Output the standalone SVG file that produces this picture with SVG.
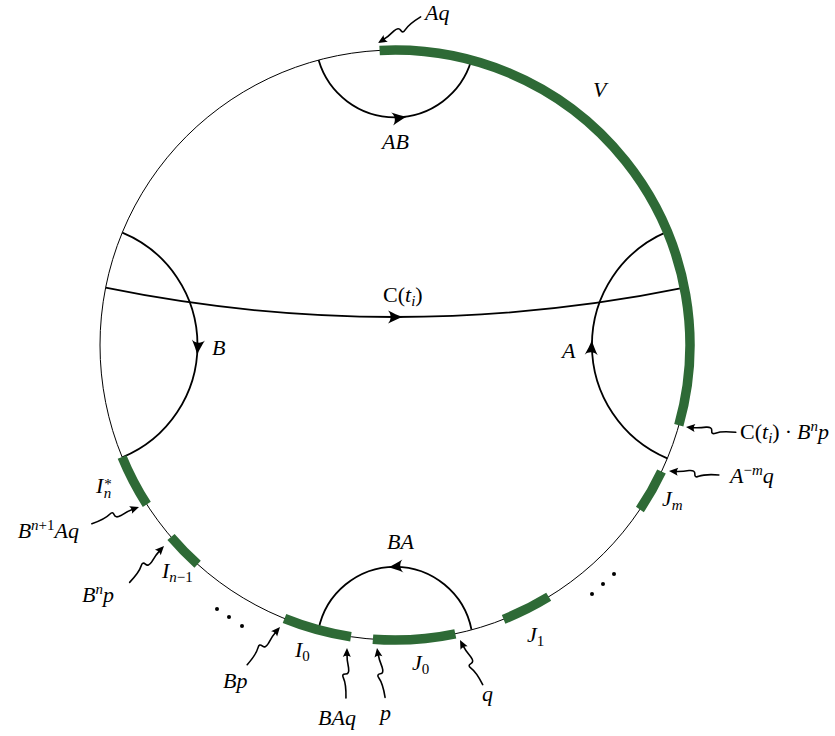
<svg xmlns="http://www.w3.org/2000/svg" xmlns:xlink="http://www.w3.org/1999/xlink" width="835" height="736" viewBox="0 0 835 736">
<style>
.c{fill:none;stroke:#000;stroke-width:1}
.g{fill:none;stroke:#2e6a36;stroke-width:9.5}
.geo{fill:none;stroke:#000;stroke-width:1.8}
.w{fill:none;stroke:#000;stroke-width:1.6;stroke-linecap:round}
.m{font-family:"Liberation Serif","Times New Roman",serif;font-style:italic;font-size:22px;fill:#000}
.u{font-style:normal}
.s{font-size:15px}
</style>
<defs>
<path id="ah" d="M0,0 C-5,-1.5 -10,-4 -15,-6.5 C-11.5,-3 -11.5,3 -15,6.5 C-10,4 -5,1.5 0,0 Z" fill="#000"/>
<g id="sq">
<path class="w" d="M-50,0 Q-36,0 -30,-3 Q-26,-5 -26,-1 Q-26,3 -20,2 Q-12,0 -4,0"/>
<path d="M0,0 L-9,-4 Q-6.5,0 -9,4 Z" fill="#000"/>
</g>
</defs>

<g id="boundary">
<circle class="c" cx="395" cy="345" r="295"/>
</g>

<g id="connectors">
<path id="geo-AB" class="geo" d="M318.6,60.1 A79.6,79.6 0 0 0 471.4,60.1"/>
<path id="geo-BA" class="geo" d="M318.5,629.6 A78,78 0 0 1 471.5,629.6"/>
<path id="geo-A" class="geo" d="M667.3,231.6 A123,123 0 0 0 667.3,458.4"/>
<path id="geo-B" class="geo" d="M122.3,232.6 A121.6,121.6 0 0 1 122.3,457.4"/>
<path id="geo-C" class="geo" d="M105.6,287.7 A1444,1444 0 0 0 684.4,287.7"/>
<use href="#ah" transform="translate(407,116.7) rotate(-8.7)"/>
<use href="#ah" transform="translate(388,567.3) rotate(174.9)"/>
<use href="#ah" transform="translate(403,317) rotate(0)"/>
<use href="#ah" transform="translate(591.8,340) rotate(-87.7)"/>
<use href="#ah" transform="translate(197.2,355) rotate(94.7)"/>
</g>

<g id="intervals">
<path id="V" class="g" d="M379.6,50.4 A295,295 0 0 1 678.8,425.3"/>
<path id="Jm" class="g" d="M661.5,471.5 A295,295 0 0 1 639.9,509.5"/>
<path id="J1" class="g" d="M548.7,596.8 A295,295 0 0 1 503.6,619.3"/>
<path id="J0" class="g" d="M455.3,633.8 A295,295 0 0 1 372.9,639.2"/>
<path id="I0" class="g" d="M350.9,636.7 A295,295 0 0 1 284.5,618.5"/>
<path id="In1" class="g" d="M197.6,564.2 A295,295 0 0 1 171.0,537.0"/>
<path id="Instar" class="g" d="M146.8,504.4 A295,295 0 0 1 122.1,457.0"/>
</g>

<g id="pointers">
<use href="#sq" transform="translate(378,43) rotate(148.5)"/>
<use href="#sq" transform="translate(686,427) rotate(186.1)"/>
<use href="#sq" transform="translate(669,471) rotate(184.5)"/>
<use href="#sq" transform="translate(139,507) rotate(-19.5)"/>
<use href="#sq" transform="translate(164,546) rotate(-46.6)"/>
<use href="#sq" transform="translate(280,627) rotate(-49)"/>
<use href="#sq" transform="translate(347,648) rotate(-88.8)"/>
<use href="#sq" transform="translate(377,648) rotate(-99.3)"/>
<use href="#sq" transform="translate(460,640) rotate(-117)"/>
</g>

<g id="dots">
<circle cx="217" cy="609" r="2"/>
<circle cx="229" cy="617" r="2"/>
<circle cx="242" cy="626" r="2"/>
<circle cx="592" cy="594" r="2"/>
<circle cx="603" cy="584" r="2"/>
<circle cx="614" cy="574" r="2"/>
</g>

<g id="labels">
<text class="m" x="425" y="20">Aq</text>
<text class="m" x="593" y="97">V</text>
<text class="m" x="382" y="149">AB</text>
<text class="m" x="383" y="302"><tspan class="u">C(</tspan>t<tspan class="s" dy="4">i</tspan><tspan class="u" dy="-4">)</tspan></text>
<text class="m" x="212" y="355">B</text>
<text class="m" x="562" y="358">A</text>
<text class="m" x="740" y="439"><tspan class="u">C(</tspan>t<tspan class="s" dy="4">i</tspan><tspan class="u" dy="-4">)</tspan><tspan class="u" dx="5">·</tspan><tspan dx="5">B</tspan><tspan class="s" dy="-8">n</tspan><tspan dy="8">p</tspan></text>
<text class="m" x="730" y="483">A<tspan class="s" dy="-8"><tspan class="u">−</tspan>m</tspan><tspan dy="8">q</tspan></text>
<text class="m" x="662" y="506">J<tspan class="s" dy="4">m</tspan></text>
<text class="m" x="96" y="493">I<tspan class="s u" dx="1" dy="-4">*</tspan><tspan class="s" dx="-8" dy="9">n</tspan></text>
<text class="m" x="79" y="538" text-anchor="end">B<tspan class="s" dy="-8">n<tspan class="u">+1</tspan></tspan><tspan dy="8">Aq</tspan></text>
<text class="m" x="82" y="602">B<tspan class="s" dy="-8">n</tspan><tspan dy="8">p</tspan></text>
<text class="m" x="162" y="578">I<tspan class="s" dy="4">n<tspan class="u">−1</tspan></tspan></text>
<text class="m" x="223" y="688">Bp</text>
<text class="m" x="295" y="657">I<tspan class="s u" dy="4">0</tspan></text>
<text class="m" x="318" y="725">BAq</text>
<text class="m" x="380" y="720">p</text>
<text class="m" x="412" y="670">J<tspan class="s u" dy="4">0</tspan></text>
<text class="m" x="482" y="701">q</text>
<text class="m" x="527" y="642">J<tspan class="s u" dy="4">1</tspan></text>
<text class="m" x="387" y="549">BA</text>
</g>
</svg>
